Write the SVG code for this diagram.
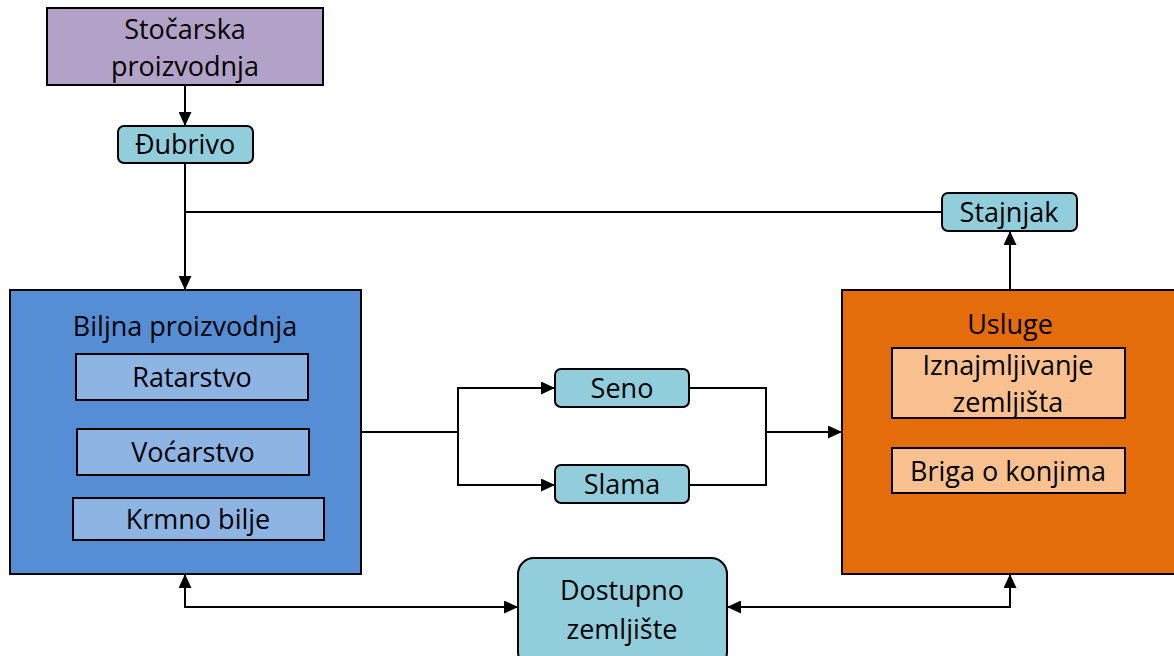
<svg xmlns="http://www.w3.org/2000/svg" width="1174" height="656" viewBox="0 0 1174 656">
<defs>
<marker id="ah" viewBox="0 0 14 13" refX="14" refY="6.5" markerWidth="14" markerHeight="13" markerUnits="userSpaceOnUse" orient="auto-start-reverse">
<path d="M0,0 L14,6.5 L0,13 Z" fill="#000"/>
</marker>
</defs>
<style>
text{font-family:"Open Sans","Noto Sans",sans-serif;font-size:27px;fill:#000;text-anchor:middle;dominant-baseline:central}
.b{stroke:#000;stroke-width:2}
.c{fill:none;stroke:#000;stroke-width:2}
</style>
<rect width="1174" height="656" fill="#fff"/>
<g id="connectors">
<line class="c" x1="185" y1="85" x2="185" y2="126" marker-end="url(#ah)"/>
<line class="c" x1="185" y1="163" x2="185" y2="290" marker-end="url(#ah)"/>
<line class="c" x1="185" y1="212" x2="942" y2="212"/>
<line class="c" x1="1010" y1="290" x2="1010" y2="231" marker-end="url(#ah)"/>
<polyline class="c" points="361,432 458,432"/>
<polyline class="c" points="555,388 458,388 458,485 555,485" marker-start="url(#ah)" marker-end="url(#ah)"/>
<polyline class="c" points="689,388 766,388 766,485 689,485"/>
<line class="c" x1="766" y1="432" x2="842" y2="432" marker-end="url(#ah)"/>
<polyline class="c" points="185,574 185,607 518,607" marker-start="url(#ah)" marker-end="url(#ah)"/>
<polyline class="c" points="1010,574 1010,607 727,607" marker-start="url(#ah)" marker-end="url(#ah)"/>
</g>
<g id="stocarska">
<rect class="b" x="47" y="8" width="276" height="77" fill="#b3a2c7"/>
<text x="185" y="28">Stočarska</text>
<text x="185" y="65">proizvodnja</text>
</g>
<g id="dubrivo">
<rect class="b" x="118" y="126" width="135" height="37" rx="6" fill="#92cddc"/>
<text x="185" y="143">Đubrivo</text>
</g>
<g id="stajnjak">
<rect class="b" x="942" y="193" width="135" height="38" rx="6" fill="#92cddc"/>
<text x="1009" y="211">Stajnjak</text>
</g>
<g id="biljna">
<rect class="b" x="10" y="290" width="351" height="284" fill="#558ed5"/>
<text x="185" y="325">Biljna proizvodnja</text>
<g id="ratarstvo">
<rect class="b" x="76" y="354" width="232" height="46" fill="#8eb4e3"/>
<text x="192" y="376">Ratarstvo</text>
</g>
<g id="vocarstvo">
<rect class="b" x="77" y="429" width="232" height="46" fill="#8eb4e3"/>
<text x="193" y="451">Voćarstvo</text>
</g>
<g id="krmno">
<rect class="b" x="73" y="498" width="251" height="42" fill="#8eb4e3"/>
<text x="198" y="518">Krmno bilje</text>
</g>
</g>
<g id="seno">
<rect class="b" x="555" y="369" width="134" height="38" rx="6" fill="#92cddc"/>
<text x="622" y="387">Seno</text>
</g>
<g id="slama">
<rect class="b" x="555" y="465" width="134" height="38" rx="6" fill="#92cddc"/>
<text x="622" y="483">Slama</text>
</g>
<g id="usluge">
<rect class="b" x="842" y="290" width="334" height="284" fill="#e46c0a"/>
<text x="1010" y="323">Usluge</text>
<g id="iznajmljivanje">
<rect class="b" x="892" y="348" width="233" height="70" fill="#fac090"/>
<text x="1008" y="364">Iznajmljivanje</text>
<text x="1008" y="401">zemljišta</text>
</g>
<g id="briga">
<rect class="b" x="892" y="448" width="233" height="45" fill="#fac090"/>
<text x="1008" y="470">Briga o konjima</text>
</g>
</g>
<g id="dostupno">
<rect class="b" x="518" y="558" width="209" height="110" rx="16" fill="#92cddc"/>
<text x="622" y="589">Dostupno</text>
<text x="622" y="628">zemljište</text>
</g>
</svg>
